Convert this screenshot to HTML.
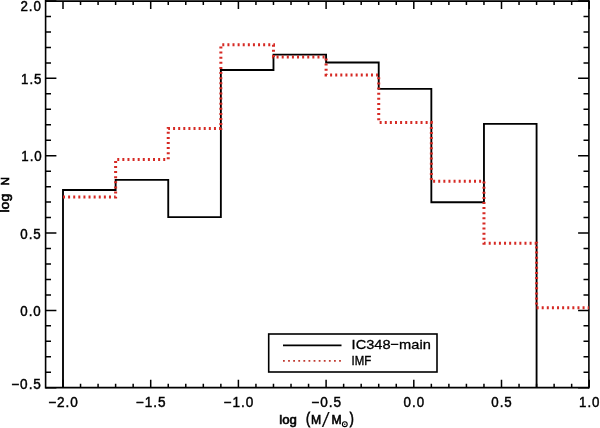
<!DOCTYPE html>
<html><head><meta charset="utf-8"><style>
html,body{margin:0;padding:0;background:#fff;width:600px;height:428px;overflow:hidden}
svg{display:block;will-change:transform}
text{font-family:"Liberation Sans",sans-serif;fill:#000;stroke:#000;stroke-width:0.35px}
</style></head><body>
<svg width="600" height="428" viewBox="0 0 600 428">
<rect width="600" height="428" fill="#fff"/>
<path d="M45.6,1.1H588.9" stroke="#000" stroke-width="1.9"/>
<path d="M45.6,387.6H588.9" stroke="#000" stroke-width="1.8"/>
<path d="M45.6,0V388.5" stroke="#000" stroke-width="1.6"/>
<path d="M588.9,0V388.5" stroke="#000" stroke-width="1.6"/>
<path d="M63.00,1.1v7.8M63.00,387.6v-7.8M80.54,1.1v3.9M80.54,387.6v-3.9M98.08,1.1v3.9M98.08,387.6v-3.9M115.62,1.1v3.9M115.62,387.6v-3.9M133.16,1.1v3.9M133.16,387.6v-3.9M150.70,1.1v7.8M150.70,387.6v-7.8M168.24,1.1v3.9M168.24,387.6v-3.9M185.78,1.1v3.9M185.78,387.6v-3.9M203.32,1.1v3.9M203.32,387.6v-3.9M220.86,1.1v3.9M220.86,387.6v-3.9M238.40,1.1v7.8M238.40,387.6v-7.8M255.94,1.1v3.9M255.94,387.6v-3.9M273.48,1.1v3.9M273.48,387.6v-3.9M291.02,1.1v3.9M291.02,387.6v-3.9M308.56,1.1v3.9M308.56,387.6v-3.9M326.10,1.1v7.8M326.10,387.6v-7.8M343.64,1.1v3.9M343.64,387.6v-3.9M361.18,1.1v3.9M361.18,387.6v-3.9M378.72,1.1v3.9M378.72,387.6v-3.9M396.26,1.1v3.9M396.26,387.6v-3.9M413.80,1.1v7.8M413.80,387.6v-7.8M431.34,1.1v3.9M431.34,387.6v-3.9M448.88,1.1v3.9M448.88,387.6v-3.9M466.42,1.1v3.9M466.42,387.6v-3.9M483.96,1.1v3.9M483.96,387.6v-3.9M501.50,1.1v7.8M501.50,387.6v-7.8M519.04,1.1v3.9M519.04,387.6v-3.9M536.58,1.1v3.9M536.58,387.6v-3.9M554.12,1.1v3.9M554.12,387.6v-3.9M571.66,1.1v3.9M571.66,387.6v-3.9M589.20,1.1v7.8M589.20,387.6v-7.8M45.6,387.75h10.8M588.9,387.75h-10.8M45.6,372.28h5.4M588.9,372.28h-5.4M45.6,356.81h5.4M588.9,356.81h-5.4M45.6,341.34h5.4M588.9,341.34h-5.4M45.6,325.87h5.4M588.9,325.87h-5.4M45.6,310.40h10.8M588.9,310.40h-10.8M45.6,294.93h5.4M588.9,294.93h-5.4M45.6,279.46h5.4M588.9,279.46h-5.4M45.6,263.99h5.4M588.9,263.99h-5.4M45.6,248.52h5.4M588.9,248.52h-5.4M45.6,233.05h10.8M588.9,233.05h-10.8M45.6,217.58h5.4M588.9,217.58h-5.4M45.6,202.11h5.4M588.9,202.11h-5.4M45.6,186.64h5.4M588.9,186.64h-5.4M45.6,171.17h5.4M588.9,171.17h-5.4M45.6,155.70h10.8M588.9,155.70h-10.8M45.6,140.23h5.4M588.9,140.23h-5.4M45.6,124.76h5.4M588.9,124.76h-5.4M45.6,109.29h5.4M588.9,109.29h-5.4M45.6,93.82h5.4M588.9,93.82h-5.4M45.6,78.35h10.8M588.9,78.35h-10.8M45.6,62.88h5.4M588.9,62.88h-5.4M45.6,47.41h5.4M588.9,47.41h-5.4M45.6,31.94h5.4M588.9,31.94h-5.4M45.6,16.47h5.4M588.9,16.47h-5.4M45.6,1.00h10.8M588.9,1.00h-10.8" fill="none" stroke="#000" stroke-width="1.5"/>
<path d="M63.00,387.6V190.0H115.62V179.8H168.24V217.1H220.86V70.0H273.48V54.6H326.10V62.5H378.72V88.9H431.34V202.2H483.96V123.9H536.58V387.6" fill="none" stroke="#000" stroke-width="1.85"/>
<path d="M63.00,197.1V197.1H115.62V159.4H168.24V128.4H220.86V44.8H273.48V56.9H326.10V74.9H378.72V122.4H431.34V181.3H483.96V243.2H536.58V307.7H588.90" fill="none" stroke="#d62a24" stroke-width="3" stroke-dasharray="2 3.108"/>
<rect x="268.7" y="334" width="168.3" height="38" fill="#fff" stroke="#000" stroke-width="1.6"/>
<path d="M283,345.4H341.5" stroke="#000" stroke-width="1.8"/>
<path d="M283,360.8H341.5" stroke="#c03a30" stroke-width="1.7" stroke-dasharray="1.8 3.3"/>
<text id="y20" transform="translate(41.8,10.5) scale(0.952,1.0)" text-anchor="end" font-size="14.0" style="letter-spacing:1px;stroke-width:0.45px">2.0</text>
<text id="y15" transform="translate(42.45,84.25) scale(0.952,1.0)" text-anchor="end" font-size="14.0" style="letter-spacing:1px;stroke-width:0.45px">1.5</text>
<text id="y10" transform="translate(42.7,160.5) scale(0.952,1.0)" text-anchor="end" font-size="14.0" style="letter-spacing:1px;stroke-width:0.45px">1.0</text>
<text id="y05" transform="translate(41.7,239.0) scale(0.952,1.0)" text-anchor="end" font-size="14.0" style="letter-spacing:1px;stroke-width:0.45px">0.5</text>
<text id="y00" transform="translate(41.7,315.55) scale(0.952,1.0)" text-anchor="end" font-size="14.0" style="letter-spacing:1px;stroke-width:0.45px">0.0</text>
<text id="ym05" transform="translate(41.9,388.9) scale(0.971,1.0)" text-anchor="end" font-size="14.0" style="letter-spacing:1px;stroke-width:0.45px">&#8722;0.5</text>
<text id="x-2.0" transform="translate(63.5,407.3) scale(0.971,1.0)" text-anchor="middle" font-size="14.0" style="letter-spacing:1px;stroke-width:0.45px">&#8722;2.0</text>
<text id="x-1.5" transform="translate(151.2,407.3) scale(0.971,1.0)" text-anchor="middle" font-size="14.0" style="letter-spacing:1px;stroke-width:0.45px">&#8722;1.5</text>
<text id="x-1.0" transform="translate(238.9,407.3) scale(0.971,1.0)" text-anchor="middle" font-size="14.0" style="letter-spacing:1px;stroke-width:0.45px">&#8722;1.0</text>
<text id="x-0.5" transform="translate(326.6,407.3) scale(0.971,1.0)" text-anchor="middle" font-size="14.0" style="letter-spacing:1px;stroke-width:0.45px">&#8722;0.5</text>
<text id="x0.0" transform="translate(414.3,407.3) scale(0.952,1.0)" text-anchor="middle" font-size="14.0" style="letter-spacing:1px;stroke-width:0.45px">0.0</text>
<text id="x0.5" transform="translate(502.0,407.3) scale(0.952,1.0)" text-anchor="middle" font-size="14.0" style="letter-spacing:1px;stroke-width:0.45px">0.5</text>
<text id="x1.0" transform="translate(589.7,407.3) scale(0.952,1.0)" text-anchor="middle" font-size="14.0" style="letter-spacing:1px;stroke-width:0.45px">1.0</text>
<text id="xlog" transform="translate(279.2,423.6) scale(1.08,1.0)" text-anchor="start" font-size="12.2" style="stroke-width:0.6px">log</text>
<text id="leg1" transform="translate(351.6,349.4) scale(1.075,1.0)" text-anchor="start" font-size="13.6" style="stroke-width:0.3px">IC348&#8722;main</text>
<text id="leg2" transform="translate(351.6,364.8) scale(0.84,1.0)" text-anchor="start" font-size="13.6" style="stroke-width:0.4px">IMF</text>
<text id="ylog" transform="translate(9.0,212.5) rotate(-90) scale(1.08,1.0)" text-anchor="start" font-size="13.0" style="stroke-width:0.6px">log</text>
<text id="yN" transform="translate(9.0,185.6) rotate(-90) scale(1.0,1.0)" text-anchor="start" font-size="11.6" style="stroke-width:0.6px">N</text>
<text id="xlp" transform="translate(306.0,423.8) scale(1.0,1.3)" text-anchor="start" font-size="12.2" style="stroke-width:0.6px">(</text>
<text id="xM1" transform="translate(311.0,423.6) scale(1.0,1.0)" text-anchor="start" font-size="12.2" style="stroke-width:0.6px">M</text>
<text id="xsl" transform="translate(321.1,427.3) scale(1.12,1.43)" text-anchor="start" font-size="14.0" style="font-family:&quot;Liberation Mono&quot;,monospace;stroke-width:0.15px">/</text>
<text id="xM2" transform="translate(331.6,423.6) scale(1.0,1.0)" text-anchor="start" font-size="12.2" style="stroke-width:0.6px">M</text>
<text id="xrp" transform="translate(349.8,423.8) scale(1.0,1.3)" text-anchor="start" font-size="12.2" style="stroke-width:0.6px">)</text>
<circle cx="344.8" cy="424.2" r="2.4" fill="none" stroke="#000" stroke-width="1.1"/><circle cx="344.8" cy="424.2" r="0.7" fill="#000"/>
</svg>
</body></html>
